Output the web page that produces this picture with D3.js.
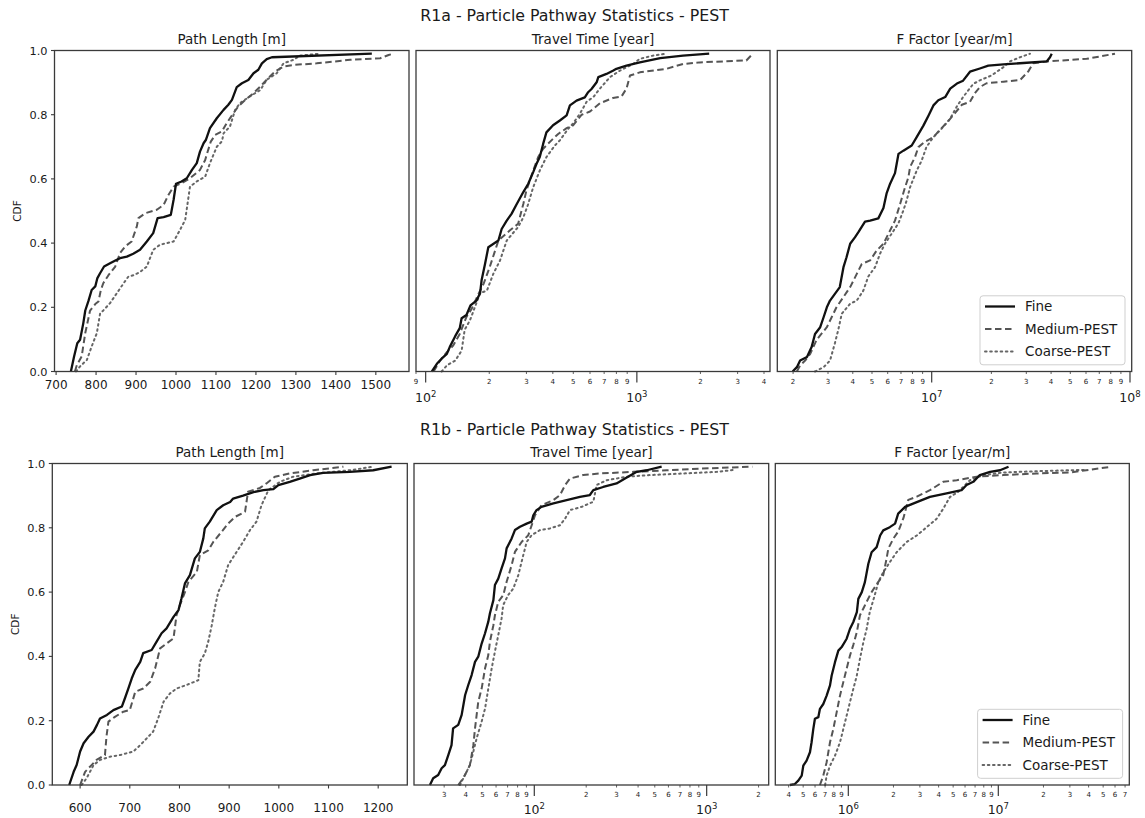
<!DOCTYPE html>
<html>
<head>
<meta charset="utf-8">
<script src="https://cdn.jsdelivr.net/npm/d3@7"></script>
<style>
  html, body { margin: 0; padding: 0; background: #fff; }
  svg { display: block; font-family: "DejaVu Sans", sans-serif; }
</style>
</head>
<body>
<svg id="chart" width="1145" height="818"></svg>
<script>
// ---- Data: CDF traces as [value, cumulative fraction] ----
const seriesNames = ["Fine", "Medium-PEST", "Coarse-PEST"];
const rowTitles = ["R1a - Particle Pathway Statistics - PEST", "R1b - Particle Pathway Statistics - PEST"];
const panelTitles = ["Path Length [m]", "Travel Time [year]", "F Factor [year/m]"];
const cdfTicks = [0, 0.2, 0.4, 0.6, 0.8, 1.0];
const pathTicksR1a = [700, 800, 900, 1000, 1100, 1200, 1300, 1400, 1500];
const pathTicksR1b = [600, 700, 800, 900, 1000, 1100, 1200];

const r1aPathFine = [[737,0],[745,0.047],[753,0.088],[760,0.099],[768,0.15],[773,0.19],[781,0.22],[789,0.254],[798,0.265],[803,0.29],[810,0.306],[820,0.327],[835,0.337],[852,0.348],[860,0.353],[877,0.358],[893,0.367],[910,0.379],[927,0.405],[943,0.431],[954,0.478],[969,0.481],[987,0.488],[994,0.535],[1000,0.585],[1014,0.592],[1027,0.602],[1040,0.628],[1052,0.649],[1060,0.685],[1069,0.711],[1075,0.722],[1085,0.758],[1102,0.789],[1119,0.815],[1131,0.831],[1140,0.846],[1152,0.886],[1165,0.898],[1181,0.908],[1194,0.929],[1206,0.94],[1215,0.96],[1227,0.973],[1240,0.979],[1490,0.99]];
const r1aPathMedium = [[747,0],[752,0.02],[764,0.047],[773,0.12],[785,0.19],[798,0.21],[806,0.218],[812,0.254],[818,0.275],[831,0.3],[848,0.327],[860,0.369],[873,0.39],[889,0.405],[902,0.452],[906,0.478],[923,0.493],[952,0.504],[969,0.519],[981,0.55],[994,0.576],[1014,0.587],[1035,0.602],[1060,0.628],[1073,0.659],[1078,0.68],[1087,0.716],[1098,0.737],[1115,0.748],[1127,0.774],[1144,0.805],[1156,0.826],[1173,0.846],[1194,0.867],[1211,0.888],[1227,0.909],[1248,0.935],[1269,0.95],[1294,0.955],[1352,0.96],[1436,0.971],[1511,0.976],[1532,0.986],[1544,0.99]];
const r1aPathCoarse = [[750,0],[760,0.016],[777,0.036],[789,0.078],[802,0.12],[810,0.18],[818,0.19],[835,0.213],[852,0.244],[869,0.275],[881,0.296],[894,0.3],[910,0.31],[927,0.327],[943,0.379],[960,0.395],[994,0.405],[1010,0.441],[1023,0.472],[1035,0.576],[1052,0.592],[1073,0.607],[1085,0.649],[1102,0.7],[1115,0.717],[1119,0.742],[1135,0.763],[1148,0.815],[1160,0.836],[1185,0.857],[1211,0.877],[1227,0.909],[1252,0.929],[1269,0.96],[1294,0.971],[1310,0.984],[1360,0.99]];

const r1aTimeFine = [[107,0],[113,0.024],[119,0.04],[126,0.055],[130,0.076],[138,0.11],[145,0.135],[148,0.166],[156,0.176],[163,0.206],[174,0.221],[181,0.244],[184,0.284],[191,0.335],[198,0.387],[221,0.408],[229,0.444],[242,0.47],[255,0.491],[270,0.522],[290,0.559],[306,0.585],[323,0.621],[335,0.647],[347,0.668],[360,0.709],[373,0.745],[401,0.767],[432,0.782],[465,0.798],[482,0.829],[518,0.844],[567,0.854],[588,0.87],[610,0.88],[645,0.901],[657,0.917],[718,0.927],[770,0.937],[800,0.943],[893,0.953],[1033,0.963],[1290,0.976],[1654,0.984],[2200,0.99]];
const r1aTimeMedium = [[109,0],[117,0.034],[126,0.06],[135,0.081],[145,0.117],[156,0.17],[165,0.195],[178,0.242],[188,0.273],[201,0.325],[221,0.408],[250,0.439],[274,0.46],[290,0.522],[300,0.564],[323,0.626],[341,0.668],[360,0.694],[394,0.72],[424,0.74],[465,0.758],[499,0.767],[548,0.8],[600,0.81],[670,0.836],[770,0.852],[846,0.857],[894,0.882],[928,0.922],[1033,0.932],[1380,0.943],[1654,0.958],[1984,0.963],[3300,0.969],[3540,0.99]];
const r1aTimeCoarse = [[119,0],[126,0.019],[138,0.034],[148,0.065],[153,0.13],[162,0.159],[181,0.244],[195,0.252],[209,0.304],[225,0.346],[242,0.408],[274,0.45],[290,0.48],[306,0.522],[323,0.574],[347,0.626],[373,0.668],[409,0.704],[432,0.72],[473,0.756],[499,0.773],[537,0.803],[578,0.84],[622,0.855],[670,0.882],[746,0.917],[830,0.937],[960,0.958],[1033,0.974],[1190,0.984],[1380,0.99]];

const r1aFFine = [[1.99e6,0],[2.09e6,0.0135],[2.17e6,0.034],[2.35e6,0.045],[2.48e6,0.076],[2.58e6,0.117],[2.74e6,0.138],[2.85e6,0.169],[2.96e6,0.2],[3.07e6,0.221],[3.25e6,0.242],[3.44e6,0.263],[3.59e6,0.325],[3.72e6,0.356],[3.88e6,0.398],[4.1e6,0.418],[4.27e6,0.434],[4.61e6,0.467],[4.89e6,0.47],[5.38e6,0.477],[5.71e6,0.509],[5.93e6,0.556],[6.17e6,0.585],[6.53e6,0.618],[6.66e6,0.647],[6.8e6,0.678],[7.2e6,0.688],[7.93e6,0.704],[8.4e6,0.73],[9.08e6,0.766],[9.63e6,0.797],[1.02e7,0.829],[1.08e7,0.845],[1.17e7,0.855],[1.24e7,0.881],[1.34e7,0.897],[1.44e7,0.906],[1.56e7,0.934],[1.75e7,0.944],[1.93e7,0.953],[2.3e7,0.957],[2.9e7,0.961],[3.8e7,0.966],[3.95e7,0.979],[4.03e7,0.99]];
const r1aFMedium = [[2.09e6,0],[2.17e6,0.019],[2.3e6,0.034],[2.44e6,0.055],[2.63e6,0.099],[2.96e6,0.138],[3.13e6,0.169],[3.31e6,0.2],[3.59e6,0.232],[3.88e6,0.263],[4.19e6,0.304],[4.44e6,0.335],[4.89e6,0.346],[5.28e6,0.377],[5.71e6,0.398],[6.05e6,0.429],[6.53e6,0.47],[6.93e6,0.522],[7.34e6,0.574],[7.63e6,0.605],[7.78e6,0.637],[8.24e6,0.668],[8.57e6,0.699],[9.25e6,0.716],[1.02e7,0.73],[1.1e7,0.753],[1.21e7,0.779],[1.31e7,0.805],[1.42e7,0.831],[1.56e7,0.84],[1.65e7,0.867],[1.75e7,0.886],[1.89e7,0.898],[2.3e7,0.903],[2.79e7,0.908],[3.07e7,0.935],[3.25e7,0.96],[3.8e7,0.966],[6.05e7,0.974],[8.4e7,0.99]];
const r1aFCoarse = [[2.58e6,0],[2.85e6,0.0135],[3.07e6,0.034],[3.25e6,0.088],[3.38e6,0.13],[3.52e6,0.18],[3.88e6,0.211],[4.19e6,0.221],[4.52e6,0.252],[4.79e6,0.296],[5.18e6,0.325],[5.49e6,0.367],[5.81e6,0.398],[6.29e6,0.43],[6.8e6,0.462],[7.2e6,0.502],[7.48e6,0.533],[7.78e6,0.574],[8.4e6,0.626],[8.9e6,0.657],[9.4e6,0.699],[1.02e7,0.73],[1.12e7,0.756],[1.24e7,0.788],[1.34e7,0.826],[1.44e7,0.855],[1.62e7,0.896],[1.75e7,0.907],[2e7,0.922],[2.3e7,0.948],[2.48e7,0.966],[2.79e7,0.979],[3.13e7,0.99]];

const r1bPathFine = [[578,0],[587,0.041],[593,0.062],[600,0.104],[607,0.13],[617,0.15],[627,0.166],[634,0.187],[640,0.207],[654,0.218],[667,0.233],[684,0.244],[690,0.269],[697,0.3],[704,0.332],[711,0.358],[721,0.383],[727,0.41],[744,0.42],[754,0.446],[764,0.472],[774,0.487],[788,0.523],[798,0.544],[804,0.58],[811,0.627],[821,0.653],[831,0.705],[841,0.725],[848,0.767],[851,0.798],[861,0.819],[875,0.855],[888,0.87],[902,0.88],[908,0.891],[928,0.9],[949,0.911],[969,0.917],[989,0.92],[999,0.933],[1022,0.943],[1042,0.953],[1063,0.964],[1089,0.971],[1143,0.974],[1190,0.979],[1227,0.99]];
const r1bPathMedium = [[600,0],[610,0.041],[623,0.062],[633,0.078],[650,0.093],[653,0.15],[657,0.197],[670,0.212],[687,0.228],[700,0.233],[711,0.29],[727,0.3],[741,0.321],[751,0.363],[761,0.425],[774,0.44],[788,0.456],[794,0.528],[801,0.56],[811,0.6],[818,0.632],[835,0.663],[841,0.715],[858,0.73],[868,0.756],[885,0.788],[898,0.813],[912,0.834],[932,0.85],[938,0.912],[962,0.924],[975,0.938],[992,0.959],[1022,0.969],[1069,0.979],[1130,0.99]];
const r1bPathCoarse = [[603,0],[613,0.021],[627,0.062],[640,0.078],[660,0.088],[680,0.093],[707,0.104],[721,0.124],[734,0.145],[747,0.166],[757,0.207],[768,0.259],[781,0.285],[794,0.3],[814,0.311],[838,0.326],[841,0.383],[851,0.409],[858,0.446],[865,0.497],[871,0.549],[878,0.6],[888,0.632],[898,0.684],[915,0.725],[928,0.756],[942,0.793],[955,0.819],[965,0.87],[979,0.917],[1002,0.943],[1029,0.959],[1076,0.969],[1143,0.979],[1190,0.99]];

const r1bTimeFine = [[24.8,0],[25.9,0.021],[27.7,0.031],[29,0.052],[30.3,0.062],[31.7,0.093],[33.1,0.124],[33.8,0.176],[36.2,0.187],[37.9,0.218],[39.7,0.28],[41.4,0.311],[43.3,0.342],[45.3,0.383],[47.3,0.399],[49.5,0.44],[51.8,0.472],[54.1,0.508],[55.3,0.534],[57.9,0.575],[59.1,0.622],[61.8,0.642],[64.6,0.674],[67.6,0.705],[69.1,0.736],[73.9,0.767],[77.2,0.793],[82.6,0.803],[90.3,0.813],[96.5,0.819],[98.7,0.839],[103,0.855],[110,0.865],[129,0.876],[154,0.886],[184,0.896],[210,0.902],[220,0.917],[251,0.927],[300,0.938],[336,0.953],[393,0.974],[449,0.979],[548,0.99]];
const r1bTimeMedium = [[36.2,0],[38.7,0.021],[40.5,0.041],[42.3,0.062],[43.3,0.093],[44.3,0.124],[45.3,0.176],[47.3,0.259],[49.5,0.3],[51.8,0.363],[54.1,0.404],[55.3,0.446],[57.9,0.497],[59.1,0.528],[61.8,0.57],[66.1,0.591],[69.1,0.632],[73.9,0.684],[77.2,0.725],[84.4,0.756],[92.3,0.777],[101,0.839],[110,0.87],[129,0.886],[141,0.902],[151,0.933],[161,0.953],[192,0.964],[240,0.969],[376,0.974],[587,0.979],[915,0.984],[1840,0.99]];
const r1bTimeCoarse = [[37,0],[39.6,0.031],[42.3,0.062],[44.3,0.104],[46.3,0.145],[49.5,0.197],[51.8,0.238],[54.1,0.3],[56.6,0.363],[59.1,0.415],[61.8,0.466],[64.6,0.518],[66,0.56],[70.6,0.591],[75.5,0.611],[80.8,0.653],[86.3,0.715],[90.3,0.756],[96.5,0.777],[108,0.793],[123,0.798],[141,0.808],[151,0.829],[161,0.855],[188,0.865],[220,0.881],[230,0.933],[263,0.948],[343,0.959],[469,0.964],[734,0.969],[1146,0.974],[1430,0.98]];

const r1bFFine = [[4.08e5,0],[4.4e5,0.003],[4.64e5,0.0135],[4.89e5,0.029],[5.01e5,0.06],[5.27e5,0.076],[5.55e5,0.102],[5.69e5,0.133],[5.84e5,0.174],[5.99e5,0.206],[6.31e5,0.211],[6.47e5,0.237],[6.81e5,0.252],[7.17e5,0.278],[7.55e5,0.31],[7.74e5,0.34],[8.15e5,0.382],[8.58e5,0.418],[9.03e5,0.429],[9.75e5,0.455],[1.026e6,0.486],[1.08e6,0.507],[1.14e6,0.538],[1.166e6,0.579],[1.23e6,0.6],[1.29e6,0.631],[1.36e6,0.688],[1.43e6,0.724],[1.545e6,0.74],[1.63e6,0.776],[1.71e6,0.792],[1.89e6,0.802],[2.05e6,0.813],[2.15e6,0.844],[2.39e6,0.865],[2.86e6,0.88],[3.5e6,0.896],[4.52e6,0.907],[5.69e6,0.917],[6.14e6,0.933],[6.81e6,0.943],[7.53e6,0.964],[8.82e6,0.974],[1.026e7,0.979],[1.17e7,0.99]];
const r1bFMedium = [[6.47e5,0],[6.81e5,0.029],[7.17e5,0.071],[7.55e5,0.133],[7.94e5,0.174],[8.36e5,0.226],[8.8e5,0.278],[9.26e5,0.32],[9.75e5,0.362],[1.026e6,0.403],[1.08e6,0.436],[1.14e6,0.476],[1.196e6,0.528],[1.26e6,0.549],[1.325e6,0.57],[1.43e6,0.6],[1.585e6,0.632],[1.71e6,0.653],[1.8e6,0.705],[1.85e6,0.736],[2e6,0.767],[2.15e6,0.788],[2.33e6,0.83],[2.51e6,0.887],[2.86e6,0.897],[3.5e6,0.917],[4.29e6,0.943],[5.28e6,0.948],[7.17e6,0.959],[1.08e7,0.964],[1.8e7,0.969],[3e7,0.972],[5.66e7,0.99]];
const r1bFCoarse = [[7e5,0],[7.17e5,0.029],[7.55e5,0.06],[8.15e5,0.091],[8.8e5,0.133],[9.26e5,0.174],[9.75e5,0.216],[1.026e6,0.258],[1.08e6,0.299],[1.14e6,0.341],[1.196e6,0.393],[1.26e6,0.444],[1.325e6,0.486],[1.39e6,0.538],[1.5e6,0.59],[1.585e6,0.631],[1.71e6,0.662],[1.89e6,0.693],[2.1e6,0.724],[2.45e6,0.756],[2.86e6,0.776],[3.33e6,0.802],[3.88e6,0.828],[4.29e6,0.859],[4.76e6,0.896],[5.41e6,0.912],[6.47e6,0.948],[7.94e6,0.964],[1.08e7,0.972],[1.8e7,0.976],[3e7,0.979],[3.87e7,0.98]];

// ---- Layout ----
const rows = [
  { top: 50.5, bottom: 371.5, titleY: 21, subY: 43.5, linLabelY: 388.5, minorLabelY: 383.5, majorLabelY: 401.5, ylabelX: 17,
    cols: [[54.5, 409], [416, 770], [777.3, 1131.7]] },
  { top: 463.5, bottom: 785, titleY: 435, subY: 457, linLabelY: 812, minorLabelY: 797, majorLabelY: 814, ylabelX: 15.5,
    cols: [[52.3, 407.3], [414, 768.7], [775.3, 1129.3]] }
];

const panels = [
  { row: 0, col: 0, log: false, domain: [696, 1583], ticks: pathTicksR1a, data: [r1aPathFine, r1aPathMedium, r1aPathCoarse] },
  { row: 0, col: 1, log: true,  domain: [90, 4270], data: [r1aTimeFine, r1aTimeMedium, r1aTimeCoarse] },
  { row: 0, col: 2, log: true,  domain: [1.665e6, 1.02e8], data: [r1aFFine, r1aFMedium, r1aFCoarse] },
  { row: 1, col: 0, log: false, domain: [544, 1258.6], ticks: pathTicksR1b, data: [r1bPathFine, r1bPathMedium, r1bPathCoarse] },
  { row: 1, col: 1, log: true,  domain: [20.05, 2290], data: [r1bTimeFine, r1bTimeMedium, r1bTimeCoarse] },
  { row: 1, col: 2, log: true,  domain: [3.26e5, 7.47e7], data: [r1bFFine, r1bFMedium, r1bFCoarse] }
];

const styles = [
  { stroke: "#111", width: 2.3, dash: null },
  { stroke: "#555", width: 2.0, dash: "6.5,3.5" },
  { stroke: "#666", width: 2.0, dash: "1.6,3.6" }
];

const textColor = "#1a1a1a";
const frameColor = "#3a3a3a";

const svg = d3.select("#chart");

// Row super-titles
rows.forEach((r, i) => {
  svg.append("text")
    .attr("x", 574.5).attr("y", r.titleY)
    .attr("text-anchor", "middle")
    .attr("font-size", 15.8).attr("fill", textColor)
    .text(rowTitles[i]);
});

panels.forEach(p => {
  const r = rows[p.row];
  const [x0, x1] = r.cols[p.col];
  const x = (p.log ? d3.scaleLog() : d3.scaleLinear()).domain(p.domain).range([x0, x1]);
  const y = d3.scaleLinear().domain([0, 1]).range([r.bottom, r.top]);
  const g = svg.append("g");

  // subplot title
  g.append("text")
    .attr("x", (x0 + x1) / 2).attr("y", r.subY)
    .attr("text-anchor", "middle").attr("font-size", 13.5).attr("fill", textColor)
    .text(panelTitles[p.col]);

  // clip to plotting area
  const clipId = "clip" + p.row + p.col;
  g.append("clipPath").attr("id", clipId)
    .append("rect").attr("x", x0).attr("y", r.top - 2).attr("width", x1 - x0).attr("height", r.bottom - r.top + 4);

  const line = d3.line().x(d => x(d[0])).y(d => y(d[1]));
  const lines = g.append("g").attr("clip-path", `url(#${clipId})`);
  // draw coarse first so fine sits on top
  [2, 1, 0].forEach(k => {
    const s = styles[k];
    lines.append("path")
      .datum(p.data[k])
      .attr("d", line)
      .attr("fill", "none")
      .attr("stroke", s.stroke)
      .attr("stroke-width", s.width)
      .attr("stroke-linejoin", "round")
      .attr("stroke-linecap", k === 2 ? "round" : "butt")
      .attr("stroke-dasharray", s.dash);
  });

  // frame
  g.append("rect")
    .attr("x", x0).attr("y", r.top).attr("width", x1 - x0).attr("height", r.bottom - r.top)
    .attr("fill", "none").attr("stroke", frameColor).attr("stroke-width", 1.3);

  // x axis
  if (!p.log) {
    p.ticks.forEach(t => {
      g.append("line").attr("x1", x(t)).attr("x2", x(t)).attr("y1", r.bottom).attr("y2", r.bottom + 3.5)
        .attr("stroke", frameColor).attr("stroke-width", 1.1);
      g.append("text").attr("x", x(t)).attr("y", r.linLabelY)
        .attr("text-anchor", "middle").attr("font-size", 12).attr("fill", textColor)
        .text(t);
    });
  } else {
    const lo = Math.floor(Math.log10(p.domain[0]));
    const hi = Math.ceil(Math.log10(p.domain[1]));
    const tickVals = [];
    for (let e = lo; e <= hi; e++) {
      for (let k = 1; k <= 9; k++) {
        const v = k * Math.pow(10, e);
        if (v >= p.domain[0] && v <= p.domain[1]) tickVals.push({ v, k, e });
      }
    }
    tickVals.forEach(t => {
      const major = t.k === 1;
      g.append("line").attr("x1", x(t.v)).attr("x2", x(t.v))
        .attr("y1", r.bottom).attr("y2", r.bottom + (major ? 11 : 2.5))
        .attr("stroke", frameColor).attr("stroke-width", major ? 1.2 : 0.8);
      if (major) {
        const txt = g.append("text").attr("x", x(t.v)).attr("y", r.majorLabelY)
          .attr("text-anchor", "middle").attr("font-size", 12.5).attr("fill", textColor);
        txt.append("tspan").text("10");
        txt.append("tspan").attr("dy", -5).attr("font-size", 8.5).text(String(t.e));
      } else {
        g.append("text").attr("x", x(t.v)).attr("y", r.minorLabelY)
          .attr("text-anchor", "middle").attr("font-size", 7).attr("fill", textColor)
          .text(t.k);
      }
    });
  }

  // y axis (left column only)
  if (p.col === 0) {
    cdfTicks.forEach(t => {
      g.append("line").attr("x1", x0 - 3.5).attr("x2", x0).attr("y1", y(t)).attr("y2", y(t))
        .attr("stroke", frameColor).attr("stroke-width", 1.1);
      g.append("text").attr("x", x0 - 7).attr("y", y(t)).attr("dy", "0.36em")
        .attr("text-anchor", "end").attr("font-size", 11.3).attr("fill", textColor)
        .text(d3.format(".1f")(t));
    });
    g.append("text")
      .attr("transform", `translate(${r.ylabelX},${(r.top + r.bottom) / 2}) rotate(-90)`)
      .attr("text-anchor", "middle").attr("dy", "0.35em")
      .attr("font-size", 10.5).attr("fill", textColor)
      .text("CDF");
  }

  // legend (right column only)
  if (p.col === 2) {
    const lw = 145, lh = 69, pad = 6.7;
    const lx = x1 - pad - lw, ly = r.bottom - pad - lh;
    const lg = g.append("g");
    lg.append("rect").attr("x", lx).attr("y", ly).attr("width", lw).attr("height", lh)
      .attr("rx", 3).attr("fill", "#fff").attr("fill-opacity", 0.85)
      .attr("stroke", "#cfcfcf").attr("stroke-width", 1);
    seriesNames.forEach((name, k) => {
      const cy = ly + 10.7 + k * 22.5;
      const s = styles[k];
      lg.append("line").attr("x1", lx + 5).attr("x2", lx + 35).attr("y1", cy).attr("y2", cy)
        .attr("stroke", s.stroke).attr("stroke-width", s.width)
        .attr("stroke-linecap", k === 2 ? "round" : "butt")
        .attr("stroke-dasharray", s.dash);
      lg.append("text").attr("x", lx + 45).attr("y", cy).attr("dy", "0.36em")
        .attr("font-size", 13.5).attr("fill", textColor).text(name);
    });
  }
});
</script>
</body>
</html>
